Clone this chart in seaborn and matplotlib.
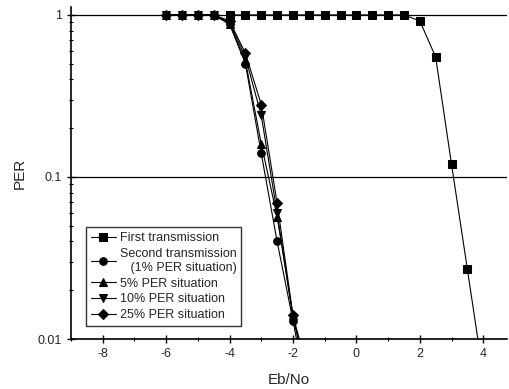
import numpy as np
import pandas as pd
import matplotlib
matplotlib.use("Agg")
import matplotlib.pyplot as plt
import seaborn as sns

# Data
x_first = [-4, -3.5, -3, -2.5, -2, -1.5, -1, -0.5, 0, 0.5, 1, 1.5, 2, 2.5, 3, 3.5, 4]
per_first = [1, 1, 1, 1, 1, 1, 1, 1, 1, 1, 1, 1, 0.92, 0.55, 0.12, 0.027, 0.006]

x_steep = [-6, -5.5, -5, -4.5, -4, -3.5, -3, -2.5, -2, -1.5]
per_second = [1, 1, 1, 1, 0.88, 0.50, 0.14, 0.040, 0.013, 0.004]
per_5 = [1, 1, 1, 1, 0.88, 0.52, 0.16, 0.057, 0.014, 0.005]
per_10 = [1, 1, 1, 1, 0.90, 0.55, 0.24, 0.060, 0.0135, 0.0055]
per_25 = [1, 1, 1, 1, 0.92, 0.58, 0.28, 0.069, 0.014, 0.006]

labels = ["First transmission", "Second transmission\n   (1% PER situation)",
          "5% PER situation", "10% PER situation", "25% PER situation"]
markers = ["s", "o", "^", "v", "D"]

sns.set_style("ticks")
plt.rcParams['font.family'] = ['Liberation Sans', 'DejaVu Sans']
plt.rcParams['axes.unicode_minus'] = False

fig = plt.figure(figsize=(5.09, 3.89), dpi=100)
ax = fig.add_axes([71 / 509, 1 - 339 / 389, 436 / 509, 332 / 389])

series = [(x_first, per_first), (x_steep, per_second), (x_steep, per_5),
          (x_steep, per_10), (x_steep, per_25)]
for (xs, ys), lab, m in zip(series, labels, markers):
    df = pd.DataFrame({"Eb/No": xs, "PER": ys})
    sns.lineplot(data=df, x="Eb/No", y="PER", ax=ax, color="black", lw=0.8,
                 marker=m, markersize=5.5 if m != "D" else 5,
                 markeredgecolor="black", label=lab)

ax.set_yscale("log")
ax.set_xlim(-9, 4.75)
ax.set_ylim(0.01, 1.12)
ax.set_xticks([-8, -6, -4, -2, 0, 2, 4])
ax.set_xticks(np.arange(-9, 5, 1), minor=True)
ax.set_yticks([0.01, 0.1, 1])
ax.set_yticklabels(["0.01", "0.1", "1"])
ax.yaxis.grid(True, which="major", color="black", lw=0.9)
ax.tick_params(axis="both", which="major", direction="inout", length=6,
               width=1, labelsize=9, color="black")
ax.tick_params(axis="both", which="minor", direction="inout", length=3,
               width=0.8, color="black")
sns.despine(ax=ax, top=True, right=True)
for s in ["left", "bottom"]:
    ax.spines[s].set_linewidth(1.2)
    ax.spines[s].set_color("black")

ax.set_xlabel("Eb/No", fontsize=11, labelpad=9)
ax.set_ylabel("PER", fontsize=11, labelpad=8)

leg = ax.legend(loc="lower left", bbox_to_anchor=(0.02, 0.02), fontsize=9,
                frameon=True, fancybox=False, edgecolor="black",
                handlelength=2.0, handletextpad=0.3, borderpad=0.4,
                labelspacing=0.3)
leg.get_frame().set_linewidth(1.0)
for t in leg.get_texts():
    t.set_multialignment("left")

plt.savefig("out.png", dpi=100)
